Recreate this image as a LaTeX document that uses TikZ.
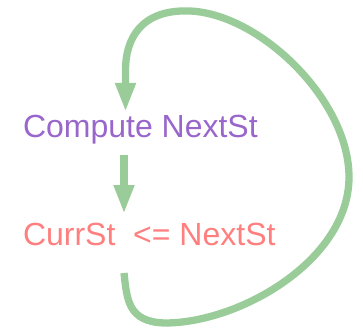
\documentclass[tikz,border=0pt]{standalone}
\usepackage{fontspec}
\setmainfont{Liberation Sans}
\usetikzlibrary{arrows.meta,positioning}
\definecolor{loopgreen}{HTML}{99CC99}
\definecolor{stpurple}{HTML}{9966CC}
\definecolor{stsalmon}{HTML}{FF7F7F}
\tikzset{
    every picture/.style={line cap=butt,line join=round},
    steptext/.style={inner sep=0pt,outer sep=0pt,anchor=base west,
      font=\fontsize{32}{38}\selectfont},
    greenarrow/.style={-{Triangle[length=29pt,width=19pt]},draw=loopgreen,
      line width=7.3pt}
}

\begin{document}
\begin{tikzpicture}[x=1pt,y=-1pt]
  \useasboundingbox (0,0) rectangle (363,331);
  \node[steptext,text=stpurple] (compute) at (23,137.5) {Compute NextSt};
  \node[steptext,text=stsalmon] (currst) at (23,245) {CurrSt\ \ <= NextSt};
  % straight step down, then the loop back up
  \coordinate (downout) at (124,155);
  \coordinate (downin) at (124,214);
  \coordinate (loopout) at (124,273);
  \coordinate (loopin) at (125.5,112);
  \draw[greenarrow] (downout) -- (downin);
  \draw[greenarrow] (loopout)
    .. controls (127,300) and (128,322) .. (165,323)
    .. controls (240,323) and (349,260) .. (349,177)
    .. controls (349,100) and (260,14) .. (190,11)
    .. controls (140,9) and (125.5,40) .. (125.5,70)
    -- (loopin);
\end{tikzpicture}
\end{document}
